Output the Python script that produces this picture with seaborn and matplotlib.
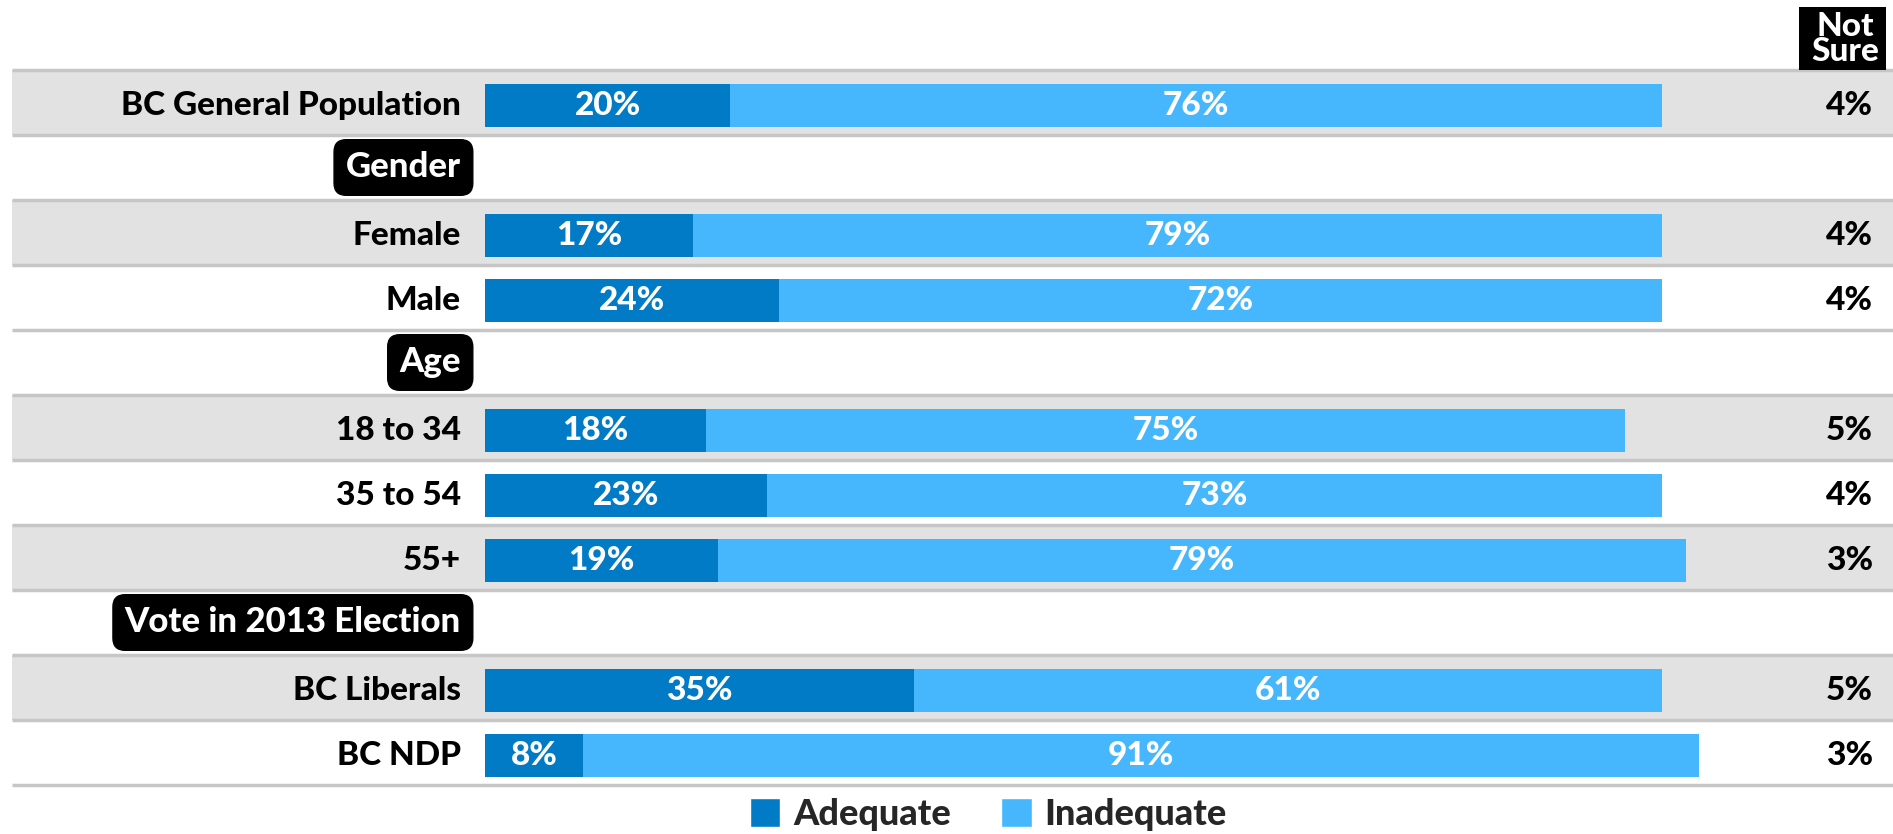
import matplotlib
matplotlib.use("Agg")
import matplotlib.pyplot as plt
import seaborn as sns
import pandas as pd
from matplotlib.patches import Patch, Rectangle

sns.set_theme(style="white")
plt.rcParams['font.family'] = ['Lato', 'DejaVu Sans']

# ---- data ----
rows = ["BC General Population", "Gender", "Female", "Male", "Age",
        "18 to 34", "35 to 54", "55+", "Vote in 2013 Election",
        "BC Liberals", "BC NDP"]
headers = ["Gender", "Age", "Vote in 2013 Election"]
shaded = ["BC General Population", "Female", "18 to 34", "55+", "BC Liberals"]
groups = ["BC General Population", "Female", "Male", "18 to 34", "35 to 54",
          "55+", "BC Liberals", "BC NDP"]
adequate = [20, 17, 24, 18, 23, 19, 35, 8]
inadequate = [76, 79, 72, 75, 73, 79, 61, 91]
not_sure = [4, 4, 4, 5, 4, 3, 5, 3]
series_names = ["Adequate", "Inadequate"]

C_ADQ = "#027bc7"
C_INA = "#47b7fd"
GRAY = "#e2e2e2"
LINE = "#c6c6c6"
WT = "black"

df = pd.DataFrame({"group": groups, "adequate": adequate,
                   "inadequate": inadequate, "not_sure": not_sure})
df["total"] = df["adequate"] + df["inadequate"]

W, H, DPI = 18.93, 8.34, 100
fig = plt.figure(figsize=(W, H), dpi=DPI)
ax = fig.add_axes([0, 0, 1, 1])

# pixel geometry -> data limits
x0_px, pct_px = 485, 12.26
row_top_px, row_h_px = 70, 65
ax_xmin = -x0_px / pct_px
ax_xmax = (W * DPI - x0_px) / pct_px
c0 = row_top_px + row_h_px / 2
ax_ytop = -c0 / row_h_px
ax_ybot = (H * DPI - c0) / row_h_px

# background bands and separators
x_band0 = (12 - x0_px) / pct_px
for i, r in enumerate(rows):
    if r in shaded:
        ax.add_patch(Rectangle((x_band0, i - 0.5), ax_xmax - x_band0, 1.0,
                               facecolor=GRAY, edgecolor="none", zorder=0))
for i in range(len(rows) + 1):
    ax.plot([x_band0, ax_xmax], [i - 0.5, i - 0.5], color=LINE, lw=2.5,
            zorder=1, solid_capstyle="butt")

n_before = len(ax.patches)
sns.barplot(data=df, y="group", x="total", order=rows, orient="h",
            color=C_INA, width=0.65, ax=ax, zorder=2, saturation=1,
            errorbar=None, linewidth=0)
sns.barplot(data=df, y="group", x="adequate", order=rows, orient="h",
            color=C_ADQ, width=0.65, ax=ax, zorder=3, saturation=1,
            errorbar=None, linewidth=0)
dy = 3 / row_h_px
for p in ax.patches[n_before:]:
    p.set_y(p.get_y() + dy)

FS = 24
for _, r in df.iterrows():
    i = rows.index(r["group"]) + dy
    ax.text(r["adequate"] / 2, i, f"{r['adequate']}%", ha="center",
            va="center", color="white", fontsize=FS, fontweight=WT, zorder=5)
    ax.text(r["adequate"] + r["inadequate"] / 2, i, f"{r['inadequate']}%",
            ha="center", va="center", color="white", fontsize=FS,
            fontweight=WT, zorder=5)
    ax.text((1873 - x0_px) / pct_px, i, f"{r['not_sure']}%", ha="right",
            va="center", color="black", fontsize=FS, fontweight=WT, zorder=5)

lab_x = (461 - x0_px) / pct_px
for i, r in enumerate(rows):
    if r in headers:
        ax.text((461 - x0_px) / pct_px, i, r, ha="right", va="center",
                color="white", fontsize=FS + 1, fontweight=WT, zorder=6,
                bbox=dict(boxstyle="round,pad=0.34,rounding_size=0.35",
                          facecolor="black", edgecolor="black"))
    else:
        ax.text(lab_x, i + dy, r, ha="right", va="center", color="black",
                fontsize=FS, fontweight=WT, zorder=6)

# Not Sure header
nx0 = (1799 - x0_px) / pct_px
ax.add_patch(Rectangle((nx0, ax_ytop + 7 / row_h_px), (1886 - 1799) / pct_px,
                       (63) / row_h_px, facecolor="black", edgecolor="none",
                       zorder=6))
ax.text((1845 - x0_px) / pct_px, ax_ytop + 39 / row_h_px, "Not\nSure",
        ha="center", va="center", color="white", fontsize=FS, fontweight=WT,
        linespacing=0.8, zorder=7)

ax.set_xlim(ax_xmin, ax_xmax)
ax.set_ylim(ax_ybot, ax_ytop)
ax.axis("off")

handles = [Patch(facecolor=C_ADQ, label=series_names[0]),
           Patch(facecolor=C_INA, label=series_names[1])]
fig.legend(handles=handles, loc="lower center", ncol=2, frameon=False,
           bbox_to_anchor=(0.522, -0.035),
           prop={"weight": WT, "size": FS + 2},
           handlelength=0.85, handleheight=0.85, handletextpad=0.35,
           columnspacing=1.4)

fig.savefig("out.png", dpi=DPI)
